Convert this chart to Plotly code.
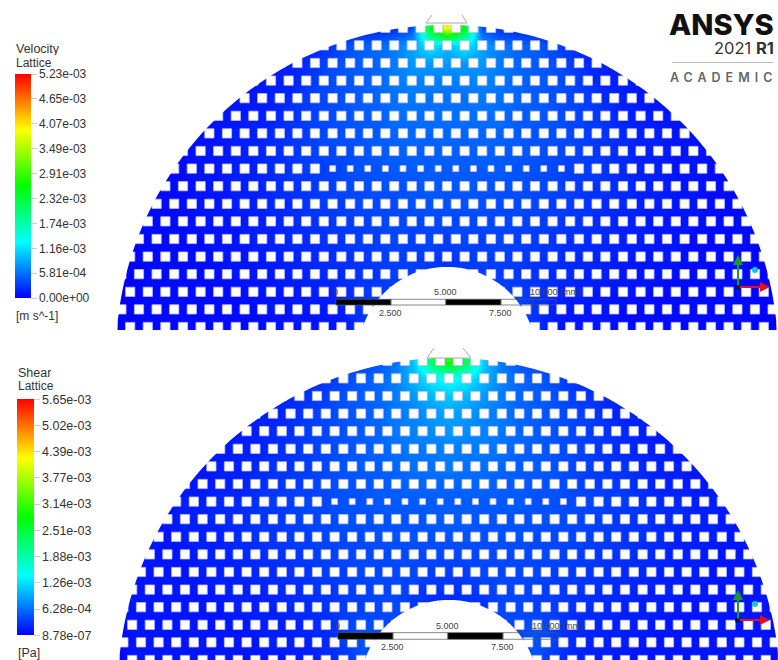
import math
import numpy as np
import plotly.graph_objects as go

W, H = 778, 660
FONT = "Liberation Sans"

# geometry of the lattice in mm
OUTER_R, INNER_R = 15.05, 4.05
PITCH, HOLE = 0.8, 0.42
ROW0 = 1.318
MM_PX = 22.0
SMALL_ROW, SMALL_HOLE, SMALL_XMAX = 9, 0.27, 5.4

# colour legends
vel_max = 5.23e-3
vel_ticks = [0, 5.81e-4, 1.16e-3, 1.74e-3, 2.32e-3, 2.91e-3, 3.49e-3, 4.07e-3, 4.65e-3, 5.23e-3]
vel_text = ["0.00e+00", "5.81e-04", "1.16e-03", "1.74e-03", "2.32e-03", "2.91e-03", "3.49e-03", "4.07e-03", "4.65e-03", "5.23e-03"]
shear_max = 5.65e-3
shear_ticks = [8.78e-7, 6.28e-4, 1.26e-3, 1.88e-3, 2.51e-3, 3.14e-3, 3.77e-3, 4.39e-3, 5.02e-3, 5.65e-3]
shear_text = ["8.78e-07", "6.28e-04", "1.26e-03", "1.88e-03", "2.51e-03", "3.14e-03", "3.77e-03", "4.39e-03", "5.02e-03", "5.65e-03"]
scale_labels = ["0", "2.500", "5.000", "7.500", "10.000 (mm)"]

# field, % of legend maximum.
# rows run from the top of the dome down; columns run left to right, one per lattice pitch.
velocity_pct = [
 [0,0,0,0,0,0,0,0,0,0,0,0,0,0,1,2,3,4,30,78,30,4,3,2,1,0,0,0,0,0,0,0,0,0,0,0,0,0,0],
 [0,0,0,0,0,0,0,0,0,0,0,0,0,1,2,3,4,7,48,78,48,7,4,3,2,1,0,0,0,0,0,0,0,0,0,0,0,0,0],
 [0,0,0,0,0,0,0,0,0,1,2,3,5,7,9,10,12,16,24,18,24,16,12,10,9,7,5,3,2,1,0,0,0,0,0,0,0,0,0],
 [0,0,0,0,0,0,0,0,1,2,3,4,6,8,9,10,12,15,15,15,15,15,12,10,9,8,6,4,3,2,1,0,0,0,0,0,0,0,0],
 [0,0,0,0,0,0,0,1,2,3,3,5,7,8,9,10,12,13,13,12,13,13,12,10,9,8,7,5,3,3,2,1,0,0,0,0,0,0,0],
 [0,0,0,0,0,0,1,2,2,3,4,6,7,8,9,10,11,12,11,11,11,12,11,10,9,8,7,6,4,3,2,2,1,0,0,0,0,0,0],
 [0,0,0,0,0,1,2,2,3,3,5,6,7,8,9,9,11,11,11,11,11,11,11,9,9,8,7,6,5,3,3,2,2,1,0,0,0,0,0],
 [0,0,0,0,1,1,2,3,3,4,5,6,7,8,8,9,10,10,10,10,10,10,10,9,8,8,7,6,5,4,3,3,2,1,1,0,0,0,0],
 [0,0,0,1,1,2,2,3,3,4,5,6,7,7,8,9,9,10,9,10,9,10,9,9,8,7,7,6,5,4,3,3,2,2,1,1,0,0,0],
 [0,0,0,1,1,2,2,3,3,4,5,6,6,7,8,8,9,9,9,9,9,9,9,8,8,7,6,6,5,4,3,3,2,2,1,1,0,0,0],
 [0,0,1,1,1,2,2,3,3,4,5,5,6,7,7,8,8,8,9,8,9,8,8,8,7,7,6,5,5,4,3,3,2,2,1,1,1,0,0],
 [0,0,1,1,1,2,2,3,3,4,4,5,6,6,7,7,7,8,8,8,8,8,7,7,7,6,6,5,4,4,3,3,2,2,1,1,1,0,0],
 [0,0,1,1,1,2,2,2,3,3,4,5,5,6,6,7,7,7,7,7,7,7,7,7,6,6,5,5,4,3,3,2,2,2,1,1,1,0,0],
 [0,0,1,1,1,1,2,2,3,3,4,4,5,5,6,6,7,6,7,6,7,6,7,6,6,5,5,4,4,3,3,2,2,1,1,1,1,0,0],
 [0,0,1,1,1,1,2,2,2,3,3,4,4,5,5,6,6,6,6,5,6,6,6,6,5,5,4,4,3,3,2,2,2,1,1,1,1,0,0],
 [0,0,1,1,1,1,1,2,2,2,3,3,4,4,5,5,6,6,5,5,5,6,6,5,5,4,4,3,3,2,2,2,1,1,1,1,1,0,0],
 [0,0,1,1,1,1,1,1,2,2,2,3,3,4,5,6,6,5,4,4,4,5,6,6,5,4,3,3,2,2,2,1,1,1,1,1,1,0,0],
 [0,0,1,1,1,1,1,1,1,2,2,2,2,3,5,7,7,4,3,3,3,4,7,7,5,3,2,2,2,1,1,1,1,1,1,1,1,0,0],
 [0,0,1,1,1,1,1,1,1,1,2,2,2,2,5,7,6,3,3,3,3,3,6,7,5,2,2,2,2,1,1,1,1,1,1,1,1,0,0],
 [0,0,1,1,1,1,1,1,1,1,2,2,2,2,5,7,6,3,3,3,3,3,6,7,5,2,2,2,2,1,1,1,1,1,1,1,1,0,0],
]
shear_pct = [
 [0,0,0,0,0,0,0,0,0,0,0,0,0,1,2,3,4,8,36,45,36,8,4,3,2,1,0,0,0,0,0,0,0,0,0,0,0,0,0],
 [0,0,0,0,0,0,0,0,0,0,1,2,3,4,6,8,11,20,42,55,42,20,11,8,6,4,3,2,1,0,0,0,0,0,0,0,0,0,0],
 [0,0,0,0,0,0,0,0,1,2,3,4,5,7,9,10,13,18,24,26,24,18,13,10,9,7,5,4,3,2,1,0,0,0,0,0,0,0,0],
 [0,0,0,0,0,0,0,1,2,3,4,5,6,8,9,10,12,15,18,20,18,15,12,10,9,8,6,5,4,3,2,1,0,0,0,0,0,0,0],
 [0,0,0,0,0,0,1,2,3,3,4,6,7,8,9,10,12,13,15,16,15,13,12,10,9,8,7,6,4,3,3,2,1,0,0,0,0,0,0],
 [0,0,0,0,0,1,2,2,3,4,5,6,7,8,9,10,12,13,14,15,14,13,12,10,9,8,7,6,5,4,3,2,2,1,0,0,0,0,0],
 [0,0,0,0,1,2,2,3,3,4,5,6,7,8,9,10,11,12,12,13,12,12,11,10,9,8,7,6,5,4,3,3,2,2,1,0,0,0,0],
 [0,0,0,1,2,2,3,3,4,5,5,6,7,8,9,9,10,11,11,12,11,11,10,9,9,8,7,6,5,5,4,3,3,2,2,1,0,0,0],
 [0,0,1,1,2,2,3,3,4,5,6,6,7,8,8,9,9,10,10,10,10,10,9,9,8,8,7,6,6,5,4,3,3,2,2,1,1,0,0],
 [0,1,2,2,3,3,4,4,5,6,6,7,7,8,8,9,9,9,9,9,9,9,9,9,8,8,7,7,6,6,5,4,4,3,3,2,2,1,0],
 [0,1,2,2,3,3,4,4,5,5,6,7,7,8,8,8,8,8,9,9,9,8,8,8,8,8,7,7,6,5,5,4,4,3,3,2,2,1,0],
 [0,2,2,2,3,3,3,4,5,5,6,6,7,7,7,8,8,8,8,8,8,8,8,8,7,7,7,6,6,5,5,4,3,3,3,2,2,2,0],
 [0,2,2,2,2,3,3,4,4,5,5,6,6,7,7,7,7,7,7,7,7,7,7,7,7,7,6,6,5,5,4,4,3,3,2,2,2,2,0],
 [0,2,2,2,2,3,3,3,4,4,5,5,6,6,7,7,7,7,6,6,6,7,7,7,7,6,6,5,5,4,4,3,3,3,2,2,2,2,0],
 [0,2,2,2,2,2,3,3,3,4,4,5,5,6,6,7,7,6,5,5,5,6,7,7,6,6,5,5,4,4,3,3,3,2,2,2,2,2,0],
 [0,2,2,2,2,2,2,3,3,3,4,4,5,6,6,7,7,5,4,3,4,5,7,7,6,6,5,4,4,3,3,3,2,2,2,2,2,2,0],
 [0,2,2,2,2,2,2,2,3,3,3,4,4,6,8,7,7,5,3,2,3,5,7,7,8,6,4,4,3,3,3,2,2,2,2,2,2,2,0],
 [0,2,2,2,2,2,2,2,2,3,3,3,4,6,8,7,7,4,3,2,3,4,7,7,8,6,4,3,3,3,2,2,2,2,2,2,2,2,0],
 [0,2,2,2,2,2,2,2,2,2,3,3,4,5,8,7,7,4,2,2,2,4,7,7,8,5,4,3,3,2,2,2,2,2,2,2,2,2,0],
 [0,2,2,2,2,2,2,2,2,2,3,3,4,5,8,7,7,4,2,2,2,4,7,7,8,5,4,3,3,2,2,2,2,2,2,2,2,2,0],
]

RAINBOW = [[0, "rgb(0,0,255)"], [0.25, "rgb(0,255,255)"], [0.5, "rgb(0,255,0)"],
           [0.75, "rgb(255,255,0)"], [1, "rgb(255,0,0)"]]


def px(x):
    return x / W


def py(y):
    return 1 - y / H


def lattice_paths(y_cut, x_span, y_span):
    """White mask outside the half ring, and the square holes of the lattice."""
    a0 = math.asin(y_cut / OUTER_R)
    a1 = math.asin(y_cut / INNER_R)
    n = 160
    outer = [(OUTER_R * math.cos(a0 + (math.pi - 2 * a0) * i / n),
              OUTER_R * math.sin(a0 + (math.pi - 2 * a0) * i / n)) for i in range(n + 1)]
    inner = [(INNER_R * math.cos(math.pi - a1 - (math.pi - 2 * a1) * i / n),
              INNER_R * math.sin(math.pi - a1 - (math.pi - 2 * a1) * i / n)) for i in range(n + 1)]
    ring = outer + inner
    mask = "M" + " L".join(f"{a:.3f},{b:.3f}" for a, b in ring) + " Z "
    mask += (f"M{x_span[0]},{y_span[0]} L{x_span[1]},{y_span[0]} "
             f"L{x_span[1]},{y_span[1]} L{x_span[0]},{y_span[1]} Z")
    parts = []
    for k in range(0, 18):
        yc = ROW0 + PITCH * k
        shift = 0 if k % 2 == 0 else PITCH / 2
        for j in range(-21, 21):
            xc = PITCH * j + shift
            if math.hypot(xc, yc) > OUTER_R + 0.5:
                continue
            h = (SMALL_HOLE if k == SMALL_ROW and abs(xc) < SMALL_XMAX else HOLE) / 2
            parts.append(f"M{xc-h:.3f},{yc-h:.3f} L{xc+h:.3f},{yc-h:.3f} "
                         f"L{xc+h:.3f},{yc+h:.3f} L{xc-h:.3f},{yc+h:.3f} Z")
    return mask, " ".join(parts)


panels = [
    dict(xa="x", ya="y", cx=447, cy=356, top=0, bot=332, cut=1.18, pct=velocity_pct, vmax=vel_max,
         ticks=vel_ticks, text=vel_text, bar=(15, 74, 298), thick=16, fs=12,
         bar_y=(2.577, 2.318)),
    dict(xa="x2", ya="y2", cx=449, cy=689, top=334, bot=660, cut=1.30, pct=shear_pct, vmax=shear_max,
         ticks=shear_ticks, text=shear_text, bar=(17, 399.5, 635), thick=17, fs=12.5,
         bar_y=(2.56, 2.26)),
]

fig = go.Figure()
shapes, annots = [], []
node_x = [PITCH * j for j in range(-19, 20)]
node_y = [ROW0 + PITCH * k for k in range(18, -2, -1)]

for p in panels:
    z = np.array(p["pct"], dtype=float)[::-1] / 100 * p["vmax"]
    bx, by0, by1 = p["bar"]
    fig.add_trace(go.Heatmap(
        x=node_x, y=node_y[::-1], z=z, xaxis=p["xa"], yaxis=p["ya"],
        zmin=p["ticks"][0], zmax=p["vmax"], zsmooth="best", colorscale=RAINBOW, hoverinfo="skip",
        colorbar=dict(x=px(bx), xanchor="left", xpad=0, ypad=0, y=py((by0 + by1) / 2), yanchor="middle",
                      thickness=p["thick"], thicknessmode="pixels", len=by1 - by0, lenmode="pixels",
                      outlinewidth=0, tickmode="array", tickvals=p["ticks"], ticktext=p["text"],
                      ticks="outside", ticklen=6, tickcolor="#ccc", tickwidth=1,
                      tickfont=dict(family=FONT, size=p["fs"], color="#333")),
    ))
    xr = [-p["cx"] / MM_PX, (W - p["cx"]) / MM_PX]
    yr = [(p["cy"] - p["bot"]) / MM_PX, (p["cy"] - p["top"]) / MM_PX]
    mask, holes = lattice_paths(p["cut"], xr, yr)
    shapes.append(dict(type="path", path=holes, xref=p["xa"], yref=p["ya"], fillcolor="white",
                       line=dict(color="rgba(190,190,235,0.8)", width=1), layer="above"))
    shapes.append(dict(type="path", path=mask, xref=p["xa"], yref=p["ya"], fillcolor="white",
                       line=dict(width=0), layer="above"))
    p["xr"], p["yr"] = xr, yr
    # scale bar
    x0 = -5.05
    y_hi, y_lo = p["bar_y"]
    for i in range(4):
        shapes.append(dict(type="rect", x0=x0 + 2.5 * i, x1=x0 + 2.5 * (i + 1), y0=y_lo, y1=y_hi,
                           xref=p["xa"], yref=p["ya"], layer="above",
                           fillcolor="black" if i % 2 == 0 else "rgba(0,0,0,0)",
                           line=dict(color="#555", width=0.7)))
    for i, lab in enumerate(scale_labels):
        upper = i % 2 == 0
        annots.append(dict(x=x0 + 2.5 * i, y=y_hi if upper else y_lo, xref=p["xa"], yref=p["ya"],
                           text=lab, showarrow=False, yanchor="bottom" if upper else "top",
                           yshift=0 if upper else -1,
                           font=dict(family=FONT, size=9, color="#444")))

fig.update_layout(
    width=W, height=H, margin=dict(l=0, r=0, t=0, b=0), autosize=False,
    paper_bgcolor="white", plot_bgcolor="white", showlegend=False,
    xaxis=dict(domain=[0, 1], range=panels[0]["xr"], visible=False),
    yaxis=dict(domain=[py(panels[0]["bot"]), 1], range=panels[0]["yr"], visible=False),
    xaxis2=dict(domain=[0, 1], range=panels[1]["xr"], visible=False),
    yaxis2=dict(domain=[0, py(panels[1]["top"])], range=panels[1]["yr"], visible=False),
)


def label(x, y, text, size=12, color="#333", family=FONT, xanchor="left", box=None, **font):
    annots.append(dict(x=px(x), y=py(y), xref="paper", yref="paper", text=text, showarrow=False,
                       xanchor=xanchor, yanchor="middle", xshift=0, borderpad=0, height=box,
                       font=dict(family=family, size=size, color=color, **font)))


label(15, 49, "Velocity", 12.5, box=13)
label(15, 62, "Lattice", 12, box=11)
label(15, 316, "[m s^-1]", 12)
label(17, 373, "Shear", 12.5, box=12)
label(17, 385, "Lattice", 12, box=11)
label(17, 653, "[Pa]", 12.5)

# ANSYS logo
label(775, 24, "ANSYS", 29, "#111", "Inter", xanchor="right", box=26, weight=800)
label(775, 48, "2021 <b>R1</b>", 16.5, "#333", "Inter", xanchor="right", box=16)
label(778, 77, '<span style="letter-spacing:5px">ACADEMIC</span>', 12.5, "#666", "Inter", xanchor="right", weight=600)
shapes.append(dict(type="line", x0=px(672), x1=px(773), y0=py(62.5), y1=py(62.5), xref="paper", yref="paper",
                   line=dict(color="#bbb", width=1)))

# gate lines at the crown
for (x0, y0, x1, y1) in [(426, 23, 432, 15), (467, 23, 462, 15), (426, 23, 467, 23),
                         (427, 358, 434, 348), (471, 358, 463, 348), (427, 358, 471, 358)]:
    shapes.append(dict(type="line", x0=px(x0), x1=px(x1), y0=py(y0), y1=py(y1), xref="paper", yref="paper",
                       line=dict(color="#aaa", width=1), layer="above"))

# axis triads
for ox, oy, up, right, bx_, by_ in [(738, 287, 255, 770, 755, 270), (738, 620, 590, 770, 755, 604)]:
    annots.append(dict(x=px(ox), y=py(up), ax=0, ay=oy - up, xref="paper", yref="paper", axref="pixel",
                       ayref="pixel", text="", showarrow=True, arrowhead=2, arrowsize=1, arrowwidth=2,
                       arrowcolor="#1a9a2a"))
    annots.append(dict(x=px(right), y=py(oy), ax=ox - right, ay=0, xref="paper", yref="paper", axref="pixel",
                       ayref="pixel", text="", showarrow=True, arrowhead=2, arrowsize=1, arrowwidth=2,
                       arrowcolor="#e01020"))
    for cx_, cy_, r, col in [(bx_, by_, 3, "#12c8d8"), (ox, oy, 3, "#00105a")]:
        shapes.append(dict(type="circle", x0=px(cx_ - r), x1=px(cx_ + r), y0=py(cy_ - r), y1=py(cy_ + r),
                           xref="paper", yref="paper", fillcolor=col, line=dict(width=0), layer="above"))

fig.update_layout(shapes=shapes, annotations=annots)
fig.write_html("out.html", config={"displayModeBar": False},
               post_script="document.body.style.margin='0';")
